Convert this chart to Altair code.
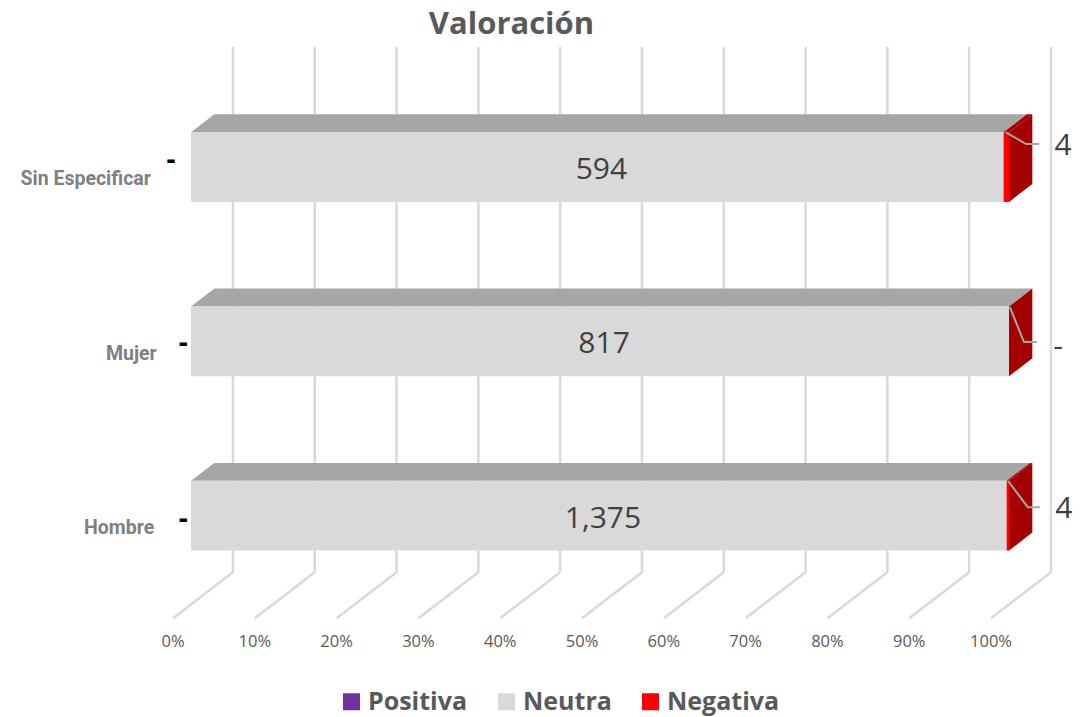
import altair as alt
import pandas as pd

# ---- values ----
categories = ["Hombre", "Mujer", "Sin Especificar"]
positiva = [0, 0, 0]
neutra = [1375, 817, 594]
negativa = [4, 0, 4]
series_names = ["Positiva", "Neutra", "Negativa"]
series_colors = ["#7030A0", "#D9D9D9", "#FF0000"]
tick_pcts = [0, 10, 20, 30, 40, 50, 60, 70, 80, 90, 100]

# ---- 3D layout, in scale units (x: percent, y: category level) ----
DX, DY, HALF = 2.85, 0.103, 0.2
FLOOR_FRONT = (-2.2, -0.588)
FLOOR_BACK = (5.13, -0.324)
WALL_TOP = 2.689
TICK_Y = -0.726
X_DOM = [-22.372, 108.80]
Y_DOM = [-1.155, 2.913]
CAT_X = [-4.5, -4.2, -4.9]
CAT_DY = 0.07
LEFT_DASH_X = [-0.4, -0.4, -1.9]
LEFT_DASH_Y = [-0.025, -0.017, 0.035]
LEAD_START = [(99.9, 0.198), (100.1, 1.197), (99.63, 2.2)]
LEAD_KNEE = [(102.3, 0.049), (101.83, 0.996), (102.08, 2.132)]
LEAD_END_X = [103.8, 103.4, 103.67]
OUT_X = [106.7, 106.0, 106.6]
OUT_Y = [0.049, 0.98, 2.132]
NEUTRA_LABEL_SHIFT = 0.5

FONT_BODY = "Open Sans"
GREY_TEXT = "#404040"

x_scale = alt.Scale(domain=X_DOM, nice=False, zero=False)
y_scale = alt.Scale(domain=Y_DOM, nice=False, zero=False)
X = lambda f: alt.X(f, type="quantitative", scale=x_scale, axis=None)
Y = lambda f: alt.Y(f, type="quantitative", scale=y_scale, axis=None)

# segments
rows = []
for lvl, cat in enumerate(categories):
    total = positiva[lvl] + neutra[lvl] + negativa[lvl]
    start = 0.0
    for name, vals in zip(series_names, [positiva, neutra, negativa]):
        end = start + vals[lvl] / total * 100
        rows.append(dict(cat=cat, level=lvl, name=name, start=start, end=end, value=vals[lvl],
                         lo=lvl - HALF, hi=lvl + HALF))
        start = end
seg = pd.DataFrame(rows)

# top face parallelograms
top_rows = []
for r in rows:
    if r["end"] > r["start"]:
        key = f'{r["cat"]}-{r["name"]}'
        top_rows.append(dict(key=key, name=r["name"], y=r["hi"], a=r["start"], b=r["end"]))
        top_rows.append(dict(key=key, name=r["name"], y=r["hi"] + DY, a=r["start"] + DX, b=r["end"] + DX))
top = pd.DataFrame(top_rows)

# right side face
side_rows = []
for lvl, cat in enumerate(categories):
    side_rows.append(dict(cat=cat, x=100.0, lo=lvl - HALF, hi=lvl + HALF))
    side_rows.append(dict(cat=cat, x=100.0 + DX, lo=lvl - HALF + DY, hi=lvl + HALF + DY))
side = pd.DataFrame(side_rows)

# grid
grid = pd.DataFrame([dict(fx=p + FLOOR_FRONT[0], fy=FLOOR_FRONT[1], bx=p + FLOOR_BACK[0],
                          by=FLOOR_BACK[1], top=WALL_TOP, label=f"{p}%") for p in tick_pcts])
GRID_C = "#D9D9D9"
wall = alt.Chart(grid).mark_rule(color=GRID_C, strokeWidth=2.5).encode(
    x=X("bx"), y=Y("by"), y2="top")
floor = alt.Chart(grid).mark_rule(color=GRID_C, strokeWidth=2.5).encode(
    x=X("fx"), x2="bx", y=Y("fy"), y2="by")
ticks = alt.Chart(grid).transform_calculate(ty=f"{TICK_Y}").mark_text(
    font=FONT_BODY, fontSize=16.5, color="#595959").encode(
    x=X("fx"), y=Y("ty:Q"), text="label:N")

# faces
top_n = alt.Chart(top[top.name == "Neutra"]).mark_area(orient="horizontal", color="#A6A6A6").encode(
    y=Y("y"), x=X("a"), x2="b", detail="key:N")
top_r = alt.Chart(top[top.name == "Negativa"]).mark_area(orient="horizontal", color="#A50000").encode(
    y=Y("y"), x=X("a"), x2="b", detail="key:N")
side_f = alt.Chart(side).mark_area(orient="vertical", color="#A50000").encode(
    x=X("x"), y=Y("lo"), y2="hi", detail="cat:N")
front = alt.Chart(seg).mark_rect().encode(
    x=X("start"), x2="end", y=Y("lo"), y2="hi",
    color=alt.Color("name:N",
                    scale=alt.Scale(domain=series_names, range=series_colors),
                    legend=alt.Legend(title=None, orient="none", legendX=331, legendY=681,
                                      direction="horizontal", columns=3, symbolType="square",
                                      symbolSize=289, symbolStrokeWidth=0, padding=0,
                                      labelFont=FONT_BODY, labelFontSize=25, labelFontWeight="bold",
                                      labelColor="#595959", columnPadding=26, labelOffset=4,
                                      labelLimit=300)))

# leader lines
lead_rows = []
for lvl, cat in enumerate(categories):
    lead_rows += [dict(cat=cat, o=0, x=LEAD_START[lvl][0], y=LEAD_START[lvl][1]),
                  dict(cat=cat, o=1, x=LEAD_KNEE[lvl][0], y=LEAD_KNEE[lvl][1]),
                  dict(cat=cat, o=2, x=LEAD_END_X[lvl], y=LEAD_KNEE[lvl][1])]
leaders = alt.Chart(pd.DataFrame(lead_rows)).mark_line(color="#A6A6A6", strokeWidth=2).encode(
    x=X("x"), y=Y("y"), order="o:Q", detail="cat:N")

# labels
fmt = lambda v: "-" if v == 0 else f"{v:,}"
neu = pd.DataFrame([dict(x=neutra[i] / (positiva[i] + neutra[i] + negativa[i]) * 50 + NEUTRA_LABEL_SHIFT,
                         y=i, t=fmt(neutra[i])) for i in range(3)])
neu_t = alt.Chart(neu).mark_text(font=FONT_BODY, fontSize=30, color=GREY_TEXT, dy=3).encode(
    x=X("x"), y=Y("y"), text="t:N")
out = pd.DataFrame([dict(x=OUT_X[i], y=OUT_Y[i], t=fmt(negativa[i])) for i in range(3)])
out_t = alt.Chart(out).mark_text(font=FONT_BODY, fontSize=30, color=GREY_TEXT, dy=2).encode(
    x=X("x"), y=Y("y"), text="t:N")
lef = pd.DataFrame([dict(x=LEFT_DASH_X[i], y=i + LEFT_DASH_Y[i], t=fmt(positiva[i])) for i in range(3)])
lef_t = alt.Chart(lef).mark_text(font=FONT_BODY, fontSize=28, fontWeight="bold", color="#000000",
                                 align="right").encode(
    x=X("x"), y=Y("y"), text="t:N")
cats = pd.DataFrame([dict(x=CAT_X[i], y=i - CAT_DY, t=categories[i]) for i in range(3)])
cat_t = alt.Chart(cats).mark_text(font="Roboto", fontSize=19.5, fontWeight="bold",
                                  color="#808080", align="right").encode(
    x=X("x"), y=Y("y"), text="t:N")

chart = alt.layer(wall, floor, ticks, top_n, top_r, side_f, front, leaders,
                  neu_t, out_t, lef_t, cat_t).properties(
    width=1073, height=709, padding=0, autosize=alt.AutoSizeParams(type="none"),
    title=alt.TitleParams("Valoración", font=FONT_BODY, fontSize=31, fontWeight="bold",
                          color="#595959", anchor="middle", offset=0, dx=-33, dy=33),
).configure_view(stroke=None)

chart.save("out.html", embed_options={"renderer": "svg", "actions": False})
